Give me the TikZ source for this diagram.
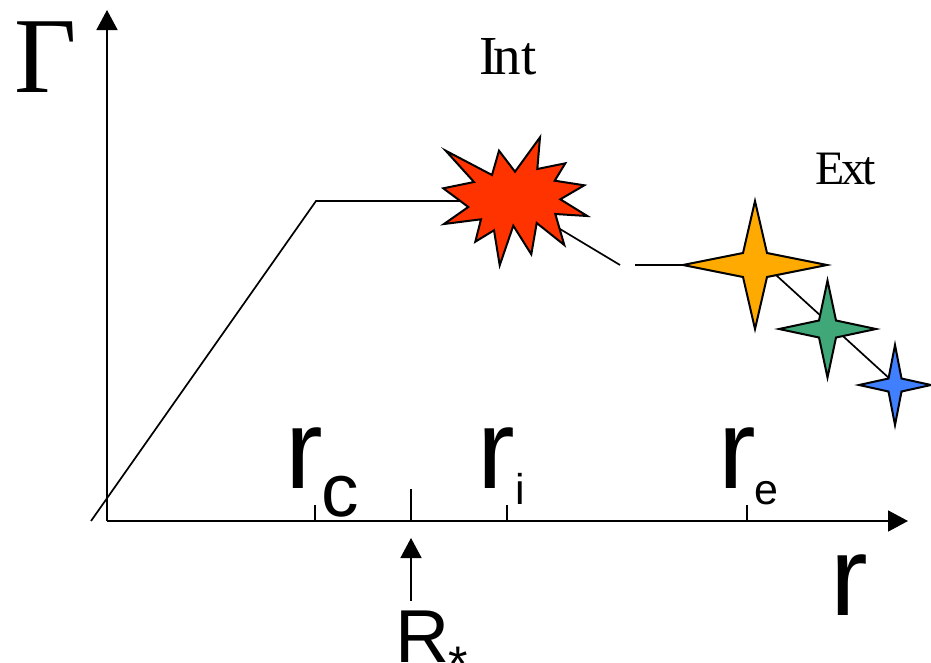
\documentclass[tikz,border=0pt]{standalone}
\usepackage{fontspec}
\setmainfont{Liberation Serif}
\newfontfamily\labelfont{Liberation Sans}
\usetikzlibrary{arrows.meta,positioning}
\tikzset{>={Triangle[length=20pt,width=21pt]}}
\tikzset{
  axisline/.style={line width=1.7pt},
  flare/.style={draw=black,line width=2pt,line join=miter},
  bigr/.style={inner sep=0pt,anchor=base west,font=\labelfont\fontsize{113}{113}\selectfont},
  sublabel/.style={inner sep=0pt,anchor=base west,font=\labelfont\fontsize{#1}{#1}\selectfont},
  serifword/.style={inner sep=0pt,anchor=base west,font=\fontsize{#1}{#1}\selectfont},
}
\definecolor{burstred}{RGB}{255,51,0}
\definecolor{starorange}{RGB}{255,170,0}
\definecolor{stargreen}{RGB}{64,168,120}
\definecolor{starblue}{RGB}{64,128,255}

\begin{document}
\begin{tikzpicture}[x=1pt,y=-1pt]
  \useasboundingbox (0,0) rectangle (931,662);

  % axes
  \coordinate (origin) at (107,521);
  \coordinate (ytip) at (107,10);
  \coordinate (xtip) at (908,521);
  \draw[->,axisline] (origin) -- (ytip);
  \draw[->,axisline] (origin) -- (xtip);

  % ticks
  \foreach \tickname/\tickx/\ticktop in {c/315/505,star/411/489,i/507/505,e/747/505} {
    \coordinate (tick\tickname) at (\tickx,521);
    \draw[axisline] (tick\tickname) -- (\tickx,\ticktop);
  }

  % track
  \coordinate (start) at (91,521);
  \coordinate (knee) at (316,201);
  \coordinate (burstin) at (460,201);
  \coordinate (burstout) at (555,226);
  \coordinate (gapleft) at (620,265);
  \coordinate (gapright) at (635,265);
  \coordinate (orange) at (755,265);
  \coordinate (green) at (827.5,329);
  \coordinate (blue) at (895,385);
  \coordinate (tailstart) at (765,265);
  \coordinate (tailend) at (890,379);
  \draw[axisline] (start) -- (knee) -- (burstin);
  \draw[axisline] (burstout) -- (gapleft);
  \draw[axisline] (gapright) -- (orange);
  \draw[axisline] (tailstart) -- (tailend);

  % internal shock
  \filldraw[flare,fill=burstred] (445.7,150.7) -- (492,175) -- (499,150.7) -- (515,171.7)
    -- (540,137.3) -- (537.3,169) -- (565.3,163.3) -- (554.7,180.7) -- (584.3,185.3)
    -- (560.3,199.3) -- (587.3,216) -- (555.3,214) -- (564.3,245) -- (536.7,223)
    -- (531.3,254.3) -- (513.3,225.7) -- (499.7,265.3) -- (494,230.3) -- (475.3,241.7)
    -- (481,219.3) -- (444,224) -- (468.3,207) -- (443.3,188.3) -- (474,182) -- cycle;

  % external shocks
  \foreach \starpos/\hw/\hh/\ins/\starcol in {orange/72/64/12/starorange,green/48.5/48.5/8.5/stargreen,blue/36/40/6.5/starblue} {
    \filldraw[flare,fill=\starcol] (\starpos) ++(-\hw,0) -- ++(\hw-\ins,-\ins) -- ++(\ins,\ins-\hh)
      -- ++(\ins,\hh-\ins) -- ++(\hw-\ins,\ins) -- ++(\ins-\hw,\ins)
      -- ++(-\ins,\hh-\ins) -- ++(-\ins,\ins-\hh) -- cycle;
  }

  % R star arrow
  \coordinate (starfoot) at (411,601);
  \coordinate (startip) at (411,538);
  \draw[->,axisline] (starfoot) -- (startip);

  % labels
  \node[serifword=108] (gammalabel) at (14,92) {Γ};
  \node[serifword=55] (intlabel) at (479,74) {I\kern-4pt nt};
  \node[serifword=48] (extlabel) at (815,184) {E\kern-3pt x\kern-3pt t};
  \node[bigr] (rc) at (285,488) {r};
  \node[sublabel=75] (rcsub) at (321,516) {c};
  \node[bigr] (ri) at (477,488) {r};
  \node[sublabel=43] (risub) at (515,504) {i};
  \node[bigr] (re) at (718,488) {r};
  \node[sublabel=43] (resub) at (754,504) {e};
  \node[bigr] (raxis) at (830,615) {r};
  \node[sublabel=75] (rstar) at (395,662) {R};
  \node[sublabel=50] (rstarsub) at (448,681) {*};
\end{tikzpicture}
\end{document}
